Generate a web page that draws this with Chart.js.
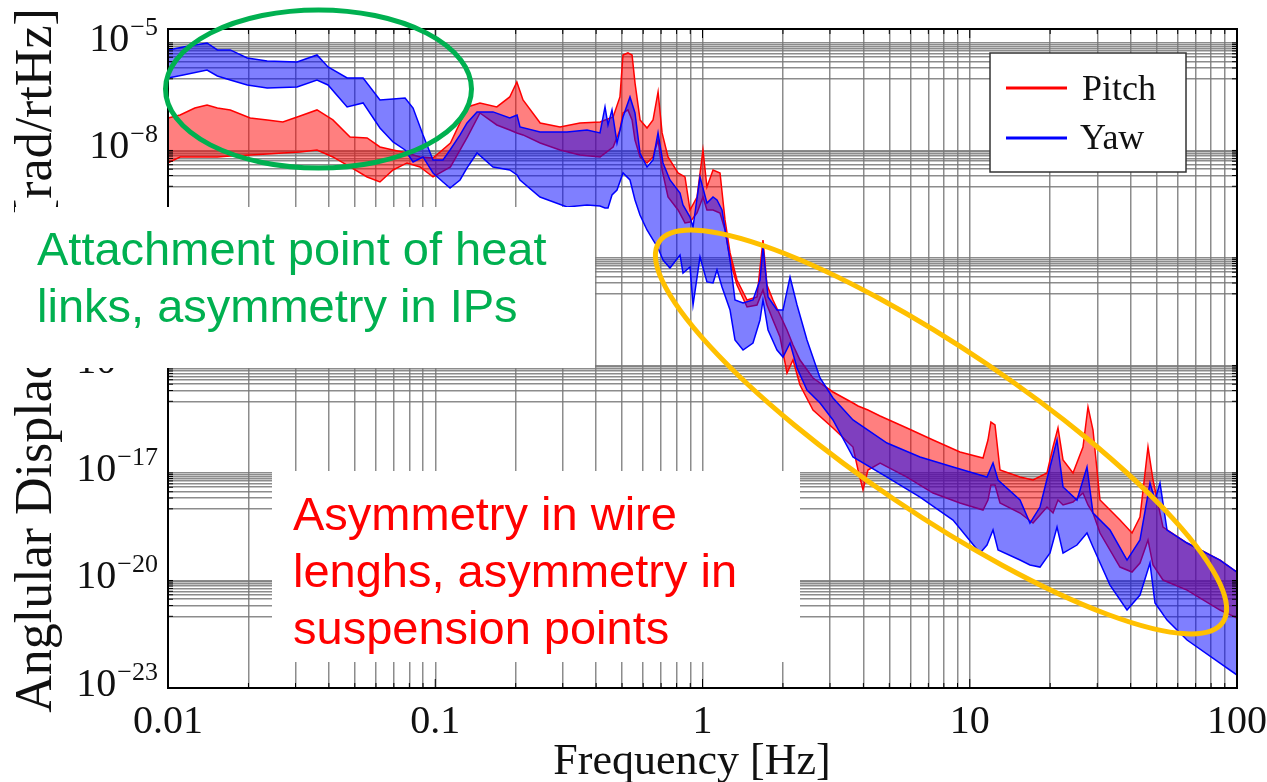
<!DOCTYPE html>
<html>
<head>
<meta charset="utf-8">
<script src="https://cdn.jsdelivr.net/npm/chart.js@4.4.0/dist/chart.umd.min.js"></script>
<style>
  html, body { margin: 0; padding: 0; background: #fff; }
  canvas { display: block; }
</style>
</head>
<body>
<canvas id="myChart" width="1267" height="782"></canvas>
<script>
// Pitch band (Hz, rad/rtHz)
var pitchFreq = [0.01, 0.0111, 0.0126, 0.014, 0.0153, 0.0171, 0.0203, 0.0235, 0.0269, 0.0312,
  0.0361, 0.0414, 0.048, 0.0556, 0.0621, 0.0695, 0.0784, 0.0877, 0.0981, 0.114,
  0.132, 0.147, 0.17, 0.19, 0.202, 0.213, 0.247, 0.293, 0.348, 0.414,
  0.463, 0.491, 0.504, 0.526, 0.545, 0.559, 0.584, 0.62, 0.653, 0.682,
  0.706, 0.743, 0.81, 0.86, 0.898, 0.954, 1.004, 1.039, 1.095, 1.163,
  1.214, 1.268, 1.346, 1.468, 1.599, 1.684, 1.743, 1.835, 1.95, 2.071,
  2.181, 2.316, 2.591, 3.078, 3.657, 3.82, 3.986, 4.16, 4.62, 5.82,
  7.29, 9.19, 11.21, 11.7, 12.0, 12.43, 12.98, 15.42, 17.25, 19.46,
  20.49, 21.39, 22.34, 24.34, 26.53, 27.7, 28.92, 30.72, 36.49, 40.47,
  43.35, 46.45, 48.5, 52.86, 65.02, 86.37, 100];
var pitchHigh = [8.07e-8, 9.78e-8, 1.53e-7, 1.86e-7, 1.53e-7, 1.35e-7, 8.07e-8, 7.10e-8, 6.24e-8, 9.18e-8,
  1.35e-7, 7.10e-8, 2.38e-8, 2.23e-8, 1.25e-8, 1.03e-8, 8.51e-9, 6.58e-9, 6.17e-9, 1.62e-8,
  1.64e-7, 2.12e-7, 1.64e-7, 3.11e-7, 8.16e-7, 2.57e-7, 5.85e-8, 4.52e-8, 5.85e-8, 6.24e-8,
  8.60e-8, 3.11e-7, 4.62e-6, 5.26e-6, 4.62e-6, 7.65e-7, 7.10e-8, 4.24e-8, 7.10e-8, 4.29e-7,
  3.08e-8, 6.58e-9, 2.35e-9, 1.82e-9, 2.18e-10, 5.03e-10, 1.03e-8, 9.57e-10, 2.85e-9, 2.35e-9,
  1.15e-10, 1.38e-11, 2.43e-12, 6.72e-13, 8.15e-13, 3.18e-11, 1.76e-12, 6.72e-13, 2.56e-13, 9.77e-14,
  3.73e-14, 1.42e-14, 4.47e-15, 1.82e-15, 8.97e-16, 7.39e-16, 6.50e-16, 5.72e-16, 3.89e-16, 1.80e-16,
  8.32e-17, 3.85e-17, 2.62e-17, 8.32e-17, 2.64e-16, 2.18e-16, 1.21e-17, 7.71e-18, 6.36e-18, 9.97e-18,
  5.30e-17, 1.80e-16, 2.30e-17, 9.97e-18, 5.30e-17, 6.93e-16, 1.58e-16, 1.76e-18, 4.87e-19, 2.11e-19,
  5.90e-19, 5.30e-17, 6.36e-18, 3.10e-19, 1.11e-19, 3.72e-20, 1.72e-20];
var pitchLow = [4.48e-9, 6.58e-9, 6.58e-9, 6.58e-9, 6.58e-9, 7.02e-9, 7.48e-9, 7.98e-9, 8.51e-9, 9.08e-9,
  1.03e-8, 6.58e-9, 3.46e-9, 1.82e-9, 1.32e-9, 2.85e-9, 4.48e-9, 3.46e-9, 1.82e-9, 3.46e-9,
  2.38e-8, 1.11e-7, 5.14e-8, 3.73e-8, 3.08e-8, 2.71e-8, 1.62e-8, 1.03e-8, 7.48e-9, 6.58e-9,
  1.25e-8, 3.73e-8, 1.11e-7, 1.35e-7, 7.10e-8, 1.96e-8, 6.58e-9, 4.48e-9, 6.58e-9, 1.96e-8,
  2.85e-9, 5.03e-10, 2.18e-10, 9.47e-11, 1.01e-10, 1.80e-10, 5.03e-10, 2.18e-10, 2.18e-10, 1.80e-10,
  6.04e-11, 8.78e-12, 1.76e-12, 4.28e-13, 4.87e-13, 1.28e-12, 4.87e-13, 1.86e-13, 6.23e-14, 6.17e-15,
  1.42e-14, 2.85e-15, 5.72e-16, 1.80e-16, 5.30e-17, 1.21e-17, 3.35e-18, 1.21e-17, 1.90e-17, 7.71e-18,
  2.76e-18, 1.45e-18, 9.25e-19, 1.76e-18, 4.61e-18, 4.61e-18, 1.45e-18, 7.63e-19, 4.01e-19, 1.12e-18,
  7.63e-19, 1.76e-18, 1.28e-18, 1.55e-18, 2.76e-18, 1.28e-18, 7.63e-19, 2.11e-19, 2.37e-20, 1.72e-20,
  3.07e-20, 1.35e-19, 2.70e-20, 1.03e-20, 5.41e-21, 1.50e-21, 8.95e-22];

// Yaw band
var yawFreq = [0.01, 0.0114, 0.014, 0.0153, 0.0171, 0.0198, 0.0235, 0.0304, 0.0361, 0.0397,
  0.0468, 0.0537, 0.0621, 0.0695, 0.0771, 0.0826, 0.09, 0.0981, 0.1069, 0.1136,
  0.1238, 0.1315, 0.1433, 0.1645, 0.19, 0.2023, 0.2075, 0.2466, 0.3112, 0.3697,
  0.4135, 0.4317, 0.443, 0.4585, 0.4787, 0.5041, 0.5354, 0.559, 0.5836, 0.62,
  0.653, 0.6817, 0.7116, 0.7556, 0.824, 0.8453, 0.8979, 0.9216, 0.9787, 1.039,
  1.095, 1.133, 1.183, 1.268, 1.323, 1.418, 1.545, 1.641, 1.684, 1.759,
  1.9, 2.001, 2.126, 2.258, 2.46, 2.753, 3.078, 3.657, 4.902, 6.514,
  8.656, 10.93, 11.6, 12.22, 12.76, 15.42, 16.8, 18.32, 19.97, 21.21,
  22.34, 25.19, 27.46, 28.92, 33.48, 38.77, 43.35, 47.25, 49.33, 51.51,
  54.72, 65.02, 86.37, 100];
var yawHigh = [6.38e-6, 7.73e-6, 1.0e-5, 6.38e-6, 6.38e-6, 3.81e-6, 3.15e-6, 2.95e-6, 4.62e-6, 2.14e-6,
  1.05e-6, 1.05e-6, 2.57e-7, 2.74e-7, 2.92e-7, 1.53e-7, 2.71e-8, 5.43e-9, 5.43e-9, 1.03e-8,
  2.71e-8, 5.85e-8, 1.19e-7, 1.19e-7, 8.07e-8, 9.78e-8, 4.52e-8, 3.28e-8, 3.28e-8, 3.73e-8,
  3.08e-8, 1.64e-7, 5.14e-8, 1.35e-7, 1.62e-8, 8.60e-8, 3.11e-7, 1.11e-7, 8.51e-9, 3.46e-9,
  5.43e-9, 3.08e-8, 4.48e-9, 1.50e-9, 6.51e-10, 3.01e-10, 1.39e-10, 7.32e-11, 1.82e-9, 3.42e-10,
  5.03e-10, 4.15e-10, 2.18e-10, 8.78e-12, 6.72e-13, 5.54e-13, 6.72e-13, 2.43e-12, 2.03e-11, 8.15e-13,
  3.53e-13, 3.53e-13, 2.95e-12, 4.87e-13, 5.14e-14, 4.47e-15, 1.24e-15, 3.01e-16, 6.86e-17, 2.79e-17,
  1.47e-17, 8.77e-18, 7.71e-18, 1.90e-17, 6.36e-18, 1.76e-18, 4.01e-19, 1.12e-18, 1.47e-17, 8.32e-17,
  4.06e-18, 1.76e-18, 1.47e-17, 7.63e-19, 2.56e-19, 3.72e-20, 1.35e-19, 5.25e-18, 1.76e-18, 5.25e-18,
  2.56e-19, 1.11e-19, 3.72e-20, 1.72e-20];
var yawLow = [1.05e-6, 1.28e-6, 1.76e-6, 1.20e-6, 9.27e-7, 6.73e-7, 5.55e-7, 5.92e-7, 9.27e-7, 6.73e-7,
  1.64e-7, 2.12e-7, 4.24e-8, 1.73e-8, 1.03e-8, 4.77e-9, 6.58e-9, 2.35e-9, 1.32e-9, 8.98e-10,
  1.50e-9, 3.25e-9, 8.51e-9, 3.46e-9, 2.85e-9, 2.07e-9, 1.50e-9, 5.03e-10, 2.65e-10, 3.01e-10,
  2.82e-10, 2.48e-10, 2.48e-10, 5.72e-10, 7.89e-10, 2.35e-9, 1.50e-9, 4.15e-10, 1.58e-10, 6.04e-11,
  3.18e-11, 1.90e-11, 8.78e-12, 5.25e-12, 1.21e-11, 3.81e-12, 5.60e-12, 4.87e-13, 1.07e-11, 2.14e-12,
  2.00e-12, 4.62e-12, 1.55e-12, 3.53e-13, 5.14e-14, 2.70e-14, 4.24e-14, 1.86e-13, 6.72e-13, 9.77e-14,
  2.70e-14, 1.72e-14, 4.24e-14, 8.50e-15, 2.07e-15, 8.97e-16, 3.01e-16, 2.79e-17, 7.71e-18, 2.13e-18,
  4.87e-19, 5.84e-20, 9.76e-20, 2.56e-19, 7.08e-20, 3.72e-20, 2.70e-20, 2.37e-20, 5.84e-20, 3.10e-19,
  5.84e-20, 9.76e-20, 2.11e-19, 8.58e-20, 7.46e-21, 1.50e-21, 3.93e-21, 3.07e-20, 2.35e-21, 1.50e-21,
  7.87e-22, 2.18e-22, 4.97e-23, 2.30e-23];

var xTickLabels = ['0.01', '0.1', '1', '10', '100'];
var yTickExps = [-5, -8, -11, -14, -17, -20, -23];
var yMin = 1e-23, yMax = 2.45e-5;

// grid lines: every 1..9 x 10^n on x, the decade under each labelled power on y
var xGrid = [];
for (var d = -2; d < 2; d++) {
  for (var m = 1; m < 10; m++) xGrid.push(m * Math.pow(10, d));
}
xGrid.push(100);
var yGrid = [];
yTickExps.forEach(function (e) {
  yGrid.push(Math.pow(10, e));
  for (var m = 1; m < 10; m++) yGrid.push(m * Math.pow(10, e - 1));
});
yGrid = yGrid.filter(function (v) { return v >= yMin * 0.999 && v <= yMax; });

function pts(xs, ys) {
  return xs.map(function (x, i) { return { x: x, y: ys[i] }; });
}

var serif = '"Liberation Serif", "Times New Roman", serif';
var sans = '"Liberation Sans", Arial, sans-serif';

var overlay = {
  id: 'overlay',
  afterDraw: function (chart) {
    var c = chart.ctx, a = chart.chartArea;
    var xs = chart.scales.x, ys = chart.scales.y;
    c.save();

    // frame and little ticks
    c.strokeStyle = '#000';
    c.lineWidth = 1;
    xGrid.forEach(function (v) {
      var px = xs.getPixelForValue(v);
      var len = xTickLabels.indexOf(String(v)) >= 0 ? 9 : 5;
      c.beginPath();
      c.moveTo(px, a.bottom); c.lineTo(px, a.bottom - len);
      c.moveTo(px, a.top); c.lineTo(px, a.top + len);
      c.stroke();
    });
    yGrid.forEach(function (v) {
      var py = ys.getPixelForValue(v);
      c.beginPath();
      c.moveTo(a.left, py); c.lineTo(a.left + 5, py);
      c.moveTo(a.right, py); c.lineTo(a.right - 5, py);
      c.stroke();
    });
    c.lineWidth = 2;
    c.strokeRect(a.left, a.top, a.right - a.left, a.bottom - a.top);

    // tick labels
    c.fillStyle = '#111';
    c.textBaseline = 'alphabetic';
    c.textAlign = 'center';
    c.font = '40px ' + serif;
    xTickLabels.forEach(function (t) {
      c.fillText(t, xs.getPixelForValue(parseFloat(t)), 733);
    });
    c.textAlign = 'left';
    yTickExps.forEach(function (e) {
      var py = ys.getPixelForValue(Math.pow(10, e));
      var sup = '\u2212' + (-e);
      c.font = '26px ' + serif;
      var w2 = c.measureText(sup).width;
      c.fillText(sup, 158 - w2, py - 8);
      c.font = '40px ' + serif;
      var w1 = c.measureText('10').width;
      c.fillText('10', 158 - w2 - w1 - 1, py + 8);
    });

    // axis titles
    c.textAlign = 'center';
    c.font = '44px ' + serif;
    c.fillText('Frequency [Hz]', 692, 774);
    c.save();
    c.translate(51, (a.top + a.bottom) / 2 + 2);
    c.rotate(-Math.PI / 2);
    c.font = '52px ' + serif;
    c.fillText('Anglular Displacement [rad/rtHz]', 0, 0);
    c.restore();

    // legend
    c.fillStyle = '#fff';
    c.fillRect(990, 53, 196, 119);
    c.strokeStyle = '#333';
    c.lineWidth = 1.5;
    c.strokeRect(990, 53, 196, 119);
    c.lineWidth = 3;
    c.strokeStyle = '#ff0000';
    c.beginPath(); c.moveTo(1006, 88); c.lineTo(1067, 88); c.stroke();
    c.strokeStyle = '#0000ff';
    c.beginPath(); c.moveTo(1006, 138); c.lineTo(1067, 138); c.stroke();
    c.fillStyle = '#111';
    c.textAlign = 'left';
    c.font = '36px ' + serif;
    c.fillText(chart.data.datasets[3].label, 1082, 100);
    c.fillText(chart.data.datasets[1].label, 1080, 149);

    // annotation boxes
    c.fillStyle = '#fff';
    c.fillRect(15, 207, 580, 161);
    c.fillRect(272, 471, 528, 191);
    c.font = '47px ' + sans;
    c.fillStyle = '#00b050';
    c.fillText('Attachment point of heat', 37, 265);
    c.fillText('links, asymmetry in IPs', 37, 322);
    c.fillStyle = '#ff0000';
    c.fillText('Asymmetry in wire', 293, 530);
    c.fillText('lenghs, asymmetry in', 293, 587);
    c.fillText('suspension points', 293, 644);

    // ellipses
    c.lineWidth = 5;
    c.strokeStyle = '#00b050';
    c.beginPath();
    c.ellipse(318.5, 89, 153, 79, 0, 0, Math.PI * 2);
    c.stroke();
    c.strokeStyle = '#ffc000';
    c.beginPath();
    c.ellipse(941, 432, 340, 82, 34 * Math.PI / 180, 0, Math.PI * 2);
    c.stroke();

    c.restore();
  }
};

var gridStyle = { color: 'rgba(120,120,120,0.85)', lineWidth: 1.5, drawTicks: false };

var ctx = document.getElementById('myChart').getContext('2d');
var myChart = new Chart(ctx, {
  type: 'line',
  data: {
    datasets: [
      { label: 'Yaw low', data: pts(yawFreq, yawLow), borderColor: '#0000ff', borderWidth: 1.5, pointRadius: 0, fill: false },
      { label: 'Yaw', data: pts(yawFreq, yawHigh), borderColor: '#0000ff', borderWidth: 1.5, pointRadius: 0,
        backgroundColor: 'rgba(0,0,255,0.5)', fill: '-1' },
      { label: 'Pitch low', data: pts(pitchFreq, pitchLow), borderColor: '#ff0000', borderWidth: 1.5, pointRadius: 0, fill: false },
      { label: 'Pitch', data: pts(pitchFreq, pitchHigh), borderColor: '#ff0000', borderWidth: 1.5, pointRadius: 0,
        backgroundColor: 'rgba(255,0,0,0.5)', fill: '-1' }
    ]
  },
  options: {
    responsive: false,
    animation: false,
    devicePixelRatio: 1,
    layout: { padding: { top: 29, right: 30, left: 0, bottom: 0 } },
    plugins: { legend: { display: false }, tooltip: { enabled: false } },
    scales: {
      x: {
        type: 'logarithmic', min: 0.01, max: 100,
        afterBuildTicks: function (s) { s.ticks = xGrid.map(function (v) { return { value: v }; }); },
        afterFit: function (s) { s.height = 94; },
        ticks: { display: false },
        grid: gridStyle,
        border: { display: false }
      },
      y: {
        type: 'logarithmic', min: yMin, max: yMax,
        afterBuildTicks: function (s) { s.ticks = yGrid.map(function (v) { return { value: v }; }); },
        afterFit: function (s) { s.width = 168; },
        ticks: { display: false },
        grid: gridStyle,
        border: { display: false }
      }
    }
  },
  plugins: [overlay]
});
</script>
</body>
</html>
